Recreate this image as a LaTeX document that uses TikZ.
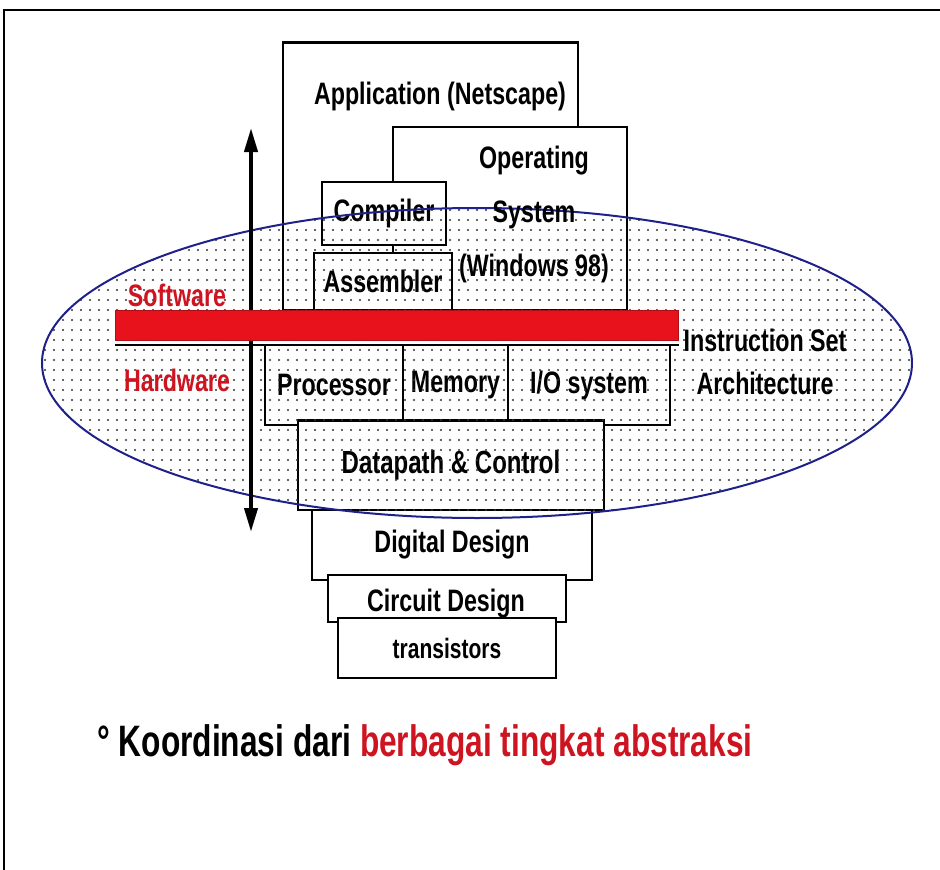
\documentclass[tikz,border=0pt]{standalone}
\usepackage{fontspec}
\setmainfont{Liberation Sans}[FakeStretch=0.75]
\newfontfamily\notefont{Liberation Sans}[FakeStretch=0.72]
\usetikzlibrary{positioning,patterns.meta,arrows.meta}

\definecolor{isared}{RGB}{232,18,28}
\definecolor{labelred}{RGB}{205,20,32}
\definecolor{ovalblue}{RGB}{32,32,140}

\tikzdeclarepattern{
  name=isadots,
  type=uncolored,
  bounding box={(-4.5pt,-5pt) and (4.5pt,5pt)},
  tile size={(9pt,10pt)},
  code={\fill (0pt,0pt) circle (1.1pt);}
}

\tikzset{
  layerbox/.style={draw, fill=white, line width=1.5pt, inner sep=0pt, outer sep=0pt,
    anchor=north west, font=\bfseries\fontsize{31}{34}\selectfont},
  layertext/.style={inner sep=0pt, font=\bfseries\fontsize{31}{34}\selectfont},
  sidetext/.style={layertext, text=labelred},
}

\begin{document}
\begin{tikzpicture}[x=1pt,y=-1pt]
  \useasboundingbox (0,0) rectangle (940,870);
  \draw[line width=2.5pt] (4,900) -- (4,10) -- (960,10);

  % software layers
  \node[layerbox, minimum width=295pt, minimum height=268pt] (app) at (283,42) {};
  \draw[line width=3pt] (app.north west) -- (app.north east);
  \node[layerbox, minimum width=234pt, minimum height=183pt] (os) at (393,127) {};
  \node[layerbox, minimum width=124pt, minimum height=63pt] (comp) at (322,182) {Compiler};
  \node[layerbox, minimum width=138pt, minimum height=57pt] (asm) at (314,253) {Assembler};

  % hardware layers
  \node[layerbox, minimum width=138pt, minimum height=80pt] (proc) at (265,345) {Processor};
  \node[layerbox, minimum width=105pt, minimum height=80pt, right=0pt of proc] (mem) {Memory};
  \node[layerbox, minimum width=162pt, minimum height=80pt, right=0pt of mem] (io) {I/O system};
  \node[layerbox, minimum width=306pt, minimum height=90pt,
    font=\bfseries\fontsize{32}{34}\selectfont] (dpc) at (298,420) {Datapath \& Control};
  \draw[line width=3pt] (dpc.north west) -- (dpc.north east);
  \node[layerbox, minimum width=280pt, minimum height=70pt] (dig) at (312,510) {Digital Design};
  \node[layerbox, minimum width=238pt, minimum height=47pt] (circ) at (328,575) {};
  \node[layertext] (circtxt) at (446,604) {Circuit Design};
  \node[layerbox, minimum width=218pt, minimum height=60pt,
    font=\bfseries\fontsize{28}{30}\selectfont] (trans) at (338,618) {transistors};

  % dotted ISA oval
  \fill[pattern=isadots, pattern color=black!80]
    (477,363) ellipse [x radius=435pt, y radius=155pt];
  \draw[ovalblue, line width=2pt]
    (477,363) ellipse [x radius=435pt, y radius=155pt];

  % software / hardware arrow
  \coordinate (swtop) at (251,128);
  \coordinate (hwbot) at (251,532);
  \draw[line width=4pt, {Triangle[length=24pt,width=13pt]}-{Triangle[length=24pt,width=13pt]}]
    (swtop) -- (hwbot);

  % instruction set bar
  \node[fill=isared, draw=isared!75!black, line width=1pt, inner sep=0pt,
    anchor=north west, minimum width=563pt, minimum height=30pt] (isabar) at (115,310) {};
  \draw[line width=1.5pt] ([yshift=-4pt]isabar.south west) -- ([yshift=-4pt]isabar.south east);

  % labels
  \node[layertext] (apptxt) at (440,96) {Application (Netscape)};
  \node[layertext, align=center, font=\bfseries\fontsize{31}{54}\selectfont]
    (ostxt) at (534,214) {Operating\\System\\(Windows 98)};
  \node[sidetext] (sw) at (177,295) {Software};
  \node[sidetext] (hw) at (177,380) {Hardware};
  \node[layertext] (isa1) at (765,340) {Instruction Set};
  \node[layertext] (isa2) at (765,383) {Architecture};
  \node[inner sep=0pt, font=\notefont\bfseries\fontsize{44}{48}\selectfont] (note) at (425,745)
    {° Koordinasi dari \textcolor{labelred}{berbagai tingkat abstraksi}};
\end{tikzpicture}
\end{document}
